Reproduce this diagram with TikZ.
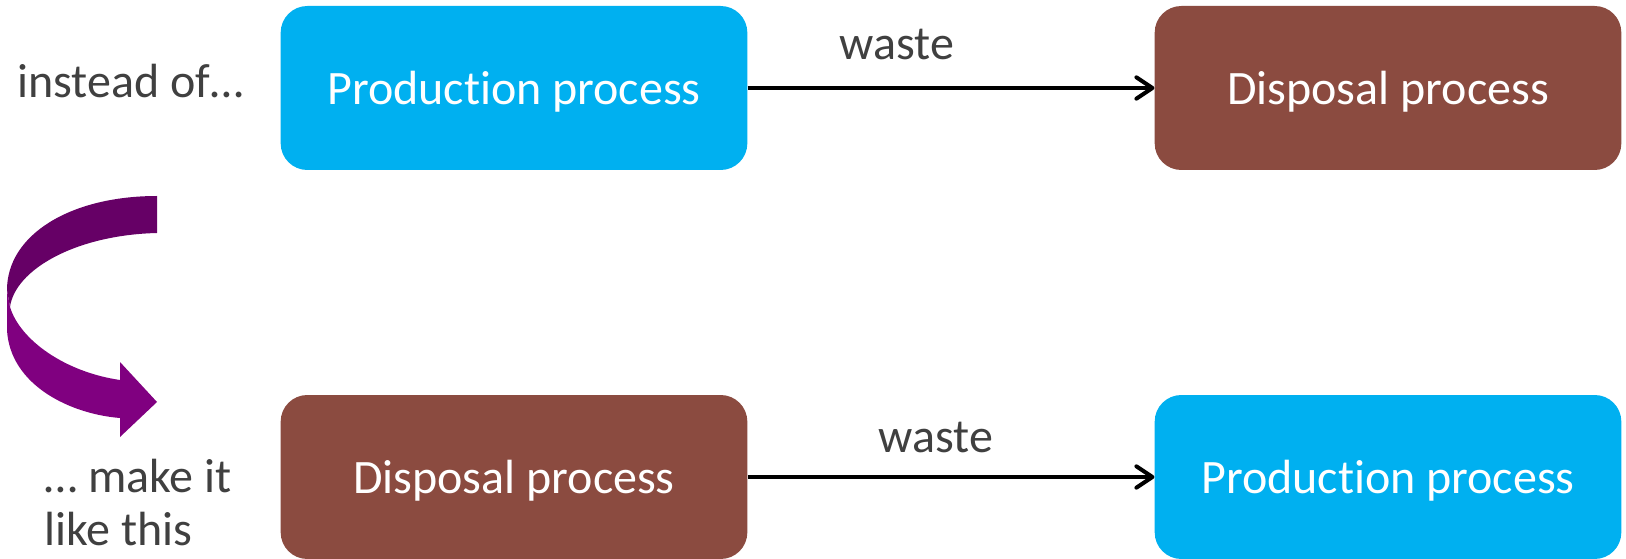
\documentclass[tikz,border=0pt]{standalone}
\usepackage{fontspec}
\setmainfont{Carlito}[Ligatures={NoCommon,NoRare,NoContextual}]
\usepackage{tikz}
\usetikzlibrary{arrows.meta,positioning}
\definecolor{prodblue}{RGB}{0,176,240}
\definecolor{dispbrown}{RGB}{139,75,64}
\definecolor{labelgrey}{RGB}{64,64,64}
\definecolor{turndark}{RGB}{102,0,102}
\definecolor{turnlight}{RGB}{128,0,128}

\begin{document}
\begin{tikzpicture}[
    x=0.75pt, y=-0.75pt,
    font=\fontsize{36}{40}\selectfont,
    box/.style={rounded corners=20pt, minimum width=350pt, minimum height=123pt,
      inner sep=0pt, text depth=0pt, text=white, align=center},
    prod/.style={box, fill=prodblue},
    disp/.style={box, fill=dispbrown},
    label/.style={text=labelgrey, inner sep=0pt},
    arrow/.style={-{Straight Barb[round, length=12pt, width=16pt]}, line width=3pt, draw=black}
  ]
  \useasboundingbox (0,0) rectangle (1626,559);
  % the usual way round
  \node[prod] (prodtop) at (514,88) {Production process};
  \node[disp] (disptop) at (1388,88) {Disposal process};
  \node[label, anchor=west] (instead) at (17,81) {instead of…};
  \node[label] (wastetop) at (897,45) {waste};
  \draw[arrow] (prodtop) -- (disptop);
  % turned round
  \node[disp] (dispbot) at (514,477) {Disposal process};
  \node[prod] (prodbot) at (1388,477) {Production process};
  \node[label, anchor=north west, align=left] (makeit) at (44,459) {… make it\\like this};
  \node[label] (wastebot) at (936,437) {waste};
  \draw[arrow] (dispbot) -- (prodbot);
  % curved turn arrow
  \fill[turndark] (157,196) .. controls (70,196) and (7,235) .. (7,290)
    -- (10,307) .. controls (15,270) and (75,235) .. (157,233) -- cycle;
  \fill[turnlight] (10,307) .. controls (20,340) and (65,372) .. (120,380)
    -- (120,362) -- (157,402) -- (120,437) -- (120,418)
    .. controls (70,414) and (10,385) .. (7,330) -- (7,290) -- cycle;
\end{tikzpicture}
\end{document}
